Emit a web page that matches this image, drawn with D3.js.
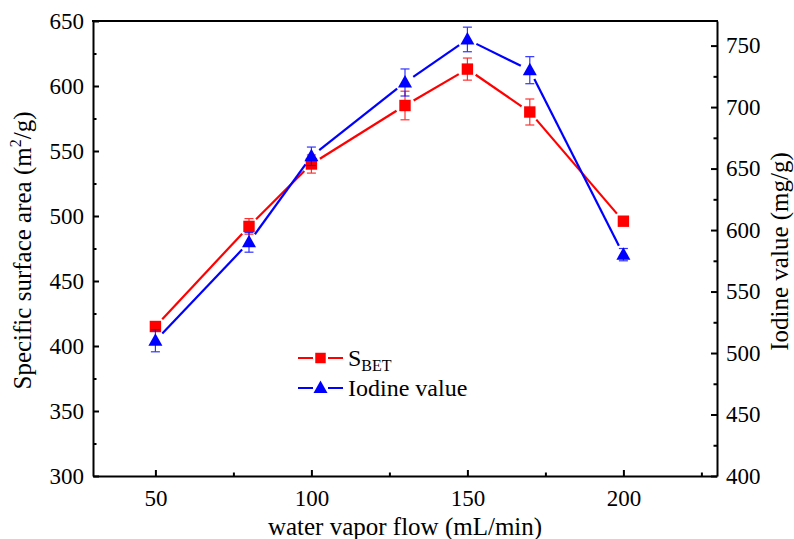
<!DOCTYPE html>
<html>
<head>
<meta charset="utf-8">
<script src="https://cdn.jsdelivr.net/npm/d3@7"></script>
</head>
<body style="margin:0">
<script>
// data
var flow = [50, 80, 100, 130, 150, 170, 200];
var sbet = [415, 492, 540, 585, 613, 580, 496];
var sbetErr = [3, 6, 7, 11, 8.5, 10, 0];
var iodine = [510, 590, 660, 720, 755, 730, 580];
var iodineErr = [9, 8, 7.5, 11, 10, 11, 5];

var xTicks = [50, 100, 150, 200];
var leftTicks = [300, 350, 400, 450, 500, 550, 600, 650];
var rightTicks = [400, 450, 500, 550, 600, 650, 700, 750];

var FONT = "Liberation Serif";

var W = 794, H = 539;
var margin = {top: 21, right: 77, bottom: 63, left: 93},
    width = W - margin.left - margin.right,
    height = H - margin.top - margin.bottom;

var svg = d3.select("body").append("svg")
    .attr("width", W).attr("height", H)
    .attr("font-family", FONT);
var g = svg.append("g")
    .attr("transform", "translate(" + margin.left + "," + margin.top + ")");

var x = d3.scaleLinear().domain([30, 230]).range([0, width]);
var yL = d3.scaleLinear().domain([300, 650]).range([height, 0]);
var yR = d3.scaleLinear().domain([400, 770]).range([height, 0]);

// axes, ticks pointing inward
function styleAxis(sel) {
  sel.attr("font-family", FONT).attr("font-size", 23);
  sel.select(".domain").attr("stroke", "#000").attr("stroke-width", 2);
  sel.selectAll(".tick line").attr("stroke", "#000").attr("stroke-width", 2);
  sel.selectAll(".tick text").attr("fill", "#000")
    .style("font-family", FONT).style("font-size", "23px");
}
function minor(s) {
  s.select(".domain").remove();
  s.selectAll("line").attr("stroke", "#000").attr("stroke-width", 2);
}

var xAx = g.append("g").attr("transform", "translate(0," + height + ")")
    .call(d3.axisBottom(x).tickValues(xTicks).tickSize(-6).tickPadding(14).tickSizeOuter(0));
styleAxis(xAx);
g.append("g").attr("transform", "translate(0," + height + ")")
    .call(d3.axisBottom(x).tickValues([75, 125, 175, 225]).tickSize(-3.5).tickFormat("").tickSizeOuter(0))
    .call(minor);

var lAx = g.append("g")
    .call(d3.axisLeft(yL).tickValues(leftTicks).tickSize(-6).tickPadding(9).tickSizeOuter(0));
styleAxis(lAx);
g.append("g")
    .call(d3.axisLeft(yL).tickValues([325, 375, 425, 475, 525, 575, 625]).tickSize(-3.5).tickFormat("").tickSizeOuter(0))
    .call(minor);

var rAx = g.append("g").attr("transform", "translate(" + width + ",0)")
    .call(d3.axisRight(yR).tickValues(rightTicks).tickSize(-6).tickPadding(9).tickSizeOuter(0));
styleAxis(rAx);
g.append("g").attr("transform", "translate(" + width + ",0)")
    .call(d3.axisRight(yR).tickValues([425, 475, 525, 575, 625, 675, 725]).tickSize(-3.5).tickFormat("").tickSizeOuter(0))
    .call(minor);

// top frame line
g.append("line").attr("x1", -1).attr("x2", width + 1).attr("y1", 0).attr("y2", 0)
    .attr("stroke", "#000").attr("stroke-width", 2);

// axis titles
function label(sel, size) {
  return sel.style("font-family", FONT).style("font-size", (size || 25) + "px").attr("fill", "#000");
}

g.append("text").attr("x", width / 2).attr("y", height + 59)
    .attr("text-anchor", "middle").call(label).text("water vapor flow (mL/min)");

var lt = g.append("text").attr("transform", "translate(" + (-62) + "," + (height / 2 + 2) + ") rotate(-90)")
    .attr("text-anchor", "middle").call(label);
lt.append("tspan").text("Specific surface area (m");
lt.append("tspan").attr("dy", -10).style("font-size", "16px").text("2");
lt.append("tspan").attr("dy", 10).text("/g)");

g.append("text").attr("transform", "translate(" + (width + 71) + "," + (height / 2 + 3) + ") rotate(-90)")
    .attr("text-anchor", "middle").call(label).text("Iodine value (mg/g)");

// series drawing: segments with small gaps around markers
function drawSeries(vals, errs, y, color, symbol, gap) {
  var pts = flow.map(function(f, i) { return [x(f), y(vals[i])]; });
  var seg = g.append("g");
  for (var i = 0; i < pts.length - 1; i++) {
    var a = pts[i], b = pts[i + 1];
    var dx = b[0] - a[0], dy = b[1] - a[1], len = Math.sqrt(dx * dx + dy * dy);
    var ux = dx / len, uy = dy / len;
    seg.append("line")
      .attr("x1", a[0] + ux * gap).attr("y1", a[1] + uy * gap)
      .attr("x2", b[0] - ux * gap).attr("y2", b[1] - uy * gap)
      .attr("stroke", color).attr("stroke-width", 2.2);
  }
  var eb = g.append("g").attr("stroke", color).attr("stroke-width", 1.2).attr("opacity", 0.8);
  flow.forEach(function(f, i) {
    if (!errs[i]) return;
    var cx = x(f), y1 = y(vals[i] - errs[i]), y2 = y(vals[i] + errs[i]);
    eb.append("line").attr("x1", cx).attr("x2", cx).attr("y1", y1).attr("y2", y2);
    eb.append("line").attr("x1", cx - 4.5).attr("x2", cx + 4.5).attr("y1", y1).attr("y2", y1);
    eb.append("line").attr("x1", cx - 4.5).attr("x2", cx + 4.5).attr("y1", y2).attr("y2", y2);
  });
  g.append("g").selectAll("path").data(pts).enter().append("path")
    .attr("transform", function(d) { return "translate(" + d[0] + "," + d[1] + ")"; })
    .attr("d", symbol).attr("fill", color);
}

var squarePath = d3.symbol().type(d3.symbolSquare).size(130)();
var triPath = "M0,-7.5L7,5L-7,5Z";

drawSeries(sbet, sbetErr, yL, "#ff0000", squarePath, 10);
drawSeries(iodine, iodineErr, yR, "#0000ff", triPath, 10);

// legend
var legend = g.append("g").attr("transform", "translate(" + (298 - margin.left) + "," + (358 - margin.top) + ")");
legend.append("line").attr("x1", 0).attr("x2", 45).attr("y1", 0).attr("y2", 0)
    .attr("stroke", "#ff0000").attr("stroke-width", 2.2).attr("stroke-dasharray", "15,15");
legend.append("path").attr("transform", "translate(22.5,0)").attr("d", d3.symbol().type(d3.symbolSquare).size(110)()).attr("fill", "#ff0000");
var lt1 = legend.append("text").attr("x", 50).attr("y", 8).call(label, 24);
lt1.append("tspan").text("S");
lt1.append("tspan").attr("dy", 5).style("font-size", "16px").text("BET");

legend.append("line").attr("x1", 0).attr("x2", 45).attr("y1", 30).attr("y2", 30)
    .attr("stroke", "#0000ff").attr("stroke-width", 2.2).attr("stroke-dasharray", "15,15");
legend.append("path").attr("transform", "translate(22.5,30)").attr("d", triPath).attr("fill", "#0000ff");
legend.append("text").attr("x", 50).attr("y", 38).call(label, 24).text("Iodine value");
</script>
</body>
</html>
